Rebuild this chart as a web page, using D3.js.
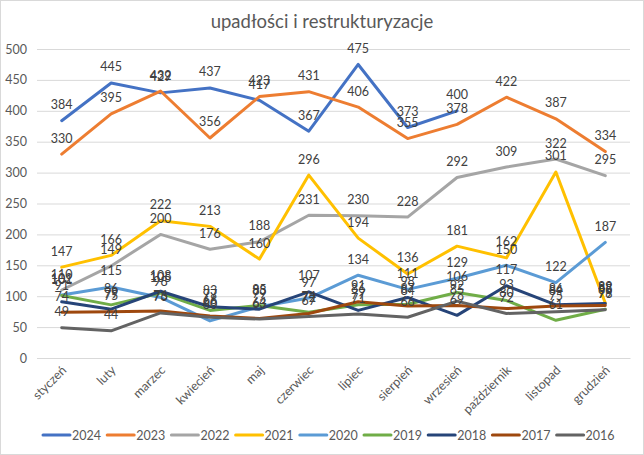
<!DOCTYPE html>
<html><head><meta charset="utf-8">
<script src="https://cdn.jsdelivr.net/npm/d3@7"></script>
<style>
html,body{margin:0;padding:0;background:#fff;}
svg{display:block;font-family:Lato,"Open Sans",sans-serif;}
</style></head>
<body><svg id="c" width="644" height="455"></svg>
<script>
const months = ["styczeń","luty","marzec","kwiecień","maj","czerwiec","lipiec","sierpień","wrzesień","październik","listopad","grudzień"];
const yTicks = [0,50,100,150,200,250,300,350,400,450,500];
const years = ["2024","2023","2022","2021","2020","2019","2018","2017","2016"];
const colors = ["#4472C4","#ED7D31","#A5A5A5","#FFC000","#5B9BD5","#70AD47","#264478","#9E480E","#636363"];
const v2024 = [384,445,429,437,417,367,475,373,400,null,null,null];
const v2023 = [330,395,432,356,423,431,406,355,378,422,387,334];
const v2022 = [110,149,200,176,188,231,230,228,292,309,322,295];
const v2021 = [147,166,222,213,160,296,194,136,181,162,301,89];
const v2020 = [102,115,98,60,83,97,134,111,129,150,122,187];
const v2019 = [101,86,105,77,85,74,86,87,106,93,61,79];
const v2018 = [91,79,108,83,79,107,77,98,69,117,86,88];
const v2017 = [74,75,76,68,64,72,91,84,85,80,84,85];
const v2016 = [49,44,73,66,63,67,71,66,92,72,75,78];
const seriesVals = [v2024,v2023,v2022,v2021,v2020,v2019,v2018,v2017,v2016];

const svg = d3.select("#c");
svg.append("rect").attr("x",0.5).attr("y",0.5).attr("width",643).attr("height",454)
  .attr("fill","#fff").attr("stroke","#d9d9d9");

const x = d3.scalePoint().domain(months).range([37,630]).padding(0.5);
const y = d3.scaleLinear().domain([0,500]).range([358,49]);

svg.append("text").attr("x",322).attr("y",28).attr("text-anchor","middle")
  .attr("font-size",18.5).attr("fill","#595959").text("upadłości i restrukturyzacje");

// grid
const yAxis = d3.axisLeft(y).tickValues(yTicks).tickSize(-(630-37)).tickPadding(10);
const gy = svg.append("g").attr("transform","translate(37,0)").call(yAxis);
gy.select(".domain").remove();
gy.selectAll(".tick line").attr("stroke","#d9d9d9");
gy.selectAll(".tick text").attr("fill","#595959").attr("font-size",12.5).attr("font-family","Lato,'Open Sans',sans-serif");

// x axis labels
const xAxis = d3.axisBottom(x).tickSize(0).tickPadding(0);
const gx = svg.append("g").attr("transform","translate(0,358)").call(xAxis);
gx.select(".domain").attr("stroke","#d9d9d9");
gx.selectAll(".tick text")
  .attr("fill","#595959").attr("font-size",12.5).attr("font-family","Lato,'Open Sans',sans-serif")
  .attr("text-anchor","end").attr("dy",0)
  .attr("transform","translate(5,13) rotate(-45)");

const line = d3.line().defined(d=>d!=null).x((d,i)=>x(months[i])).y(d=>y(d));

seriesVals.forEach((vals,i)=>{
  svg.append("path").datum(vals).attr("d",line).attr("fill","none")
    .attr("stroke",colors[i]).attr("stroke-width",3).attr("stroke-linejoin","round").attr("stroke-linecap","round");
});

seriesVals.forEach((vals,i)=>{
  svg.append("g").selectAll("text").data(vals.map((v,j)=>({v,j})).filter(d=>d.v!=null))
    .join("text")
    .attr("x",d=>x(months[d.j])).attr("y",d=>y(d.v)-11.5)
    .attr("text-anchor","middle").attr("font-size",12.5).attr("fill","#404040")
    .text(d=>d.v);
});

// legend
const lg = svg.append("g");
years.forEach((yr,i)=>{
  const lx = 43 + i*64.2;
  lg.append("line").attr("x1",lx).attr("x2",lx+27).attr("y1",435).attr("y2",435)
    .attr("stroke",colors[i]).attr("stroke-width",3).attr("stroke-linecap","round");
  lg.append("text").attr("x",lx+29).attr("y",439.5).attr("font-size",12.5).attr("fill","#595959").text(yr);
});
</script></body></html>
